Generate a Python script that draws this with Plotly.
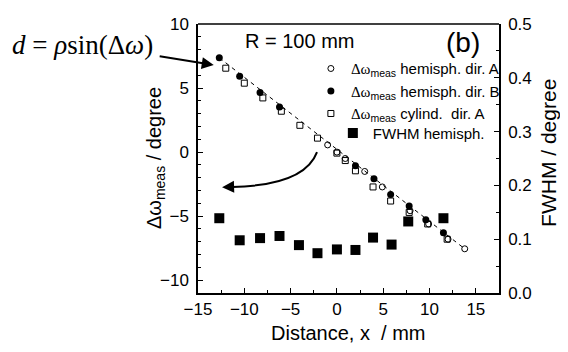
import plotly.graph_objects as go

# --- data ---
dirB_x = [-12.7, -10.5, -8.3, -6.2, 2.0, 4.0, 5.8, 7.8, 9.6, 11.5]
dirB_y = [7.36, 5.92, 4.66, 3.53, -1.06, -2.08, -3.32, -4.20, -5.29, -6.29]

dirA_x = [-1.0, 0.0, 0.9, 3.0, 4.9, 7.9, 9.9, 12.0, 13.8]
dirA_y = [0.56, 0.0, -0.5, -1.51, -2.72, -4.58, -5.61, -6.80, -7.55]

cyl_x = [-12.0, -10.0, -8.0, -6.0, -4.0, -2.1, 0.0, 0.9, 2.0, 3.9, 5.8, 7.8, 9.8, 11.9]
cyl_y = [6.55, 5.38, 4.23, 3.19, 2.09, 1.09, -0.08, -0.66, -1.46, -2.72, -3.82, -4.71, -5.61, -6.80]

fwhm_x = [-12.7, -10.5, -8.3, -6.2, -4.1, -2.1, 0.0, 2.0, 3.9, 5.9, 7.7, 11.5]
fwhm_y = [0.139, 0.098, 0.102, 0.106, 0.089, 0.074, 0.081, 0.080, 0.103, 0.090, 0.133, 0.139]

fit_x = [-12.7, 13.8]
fit_y = [7.36, -7.55]

x_ticks = [-15, -10, -5, 0, 5, 10, 15]
y_ticks = [-10, -5, 0, 5, 10]
y2_ticks = [0.0, 0.1, 0.2, 0.3, 0.4, 0.5]

DW = '<span style="font-family:Liberation Serif">Δω</span><sub>meas</sub>'

fig = go.Figure()
fig.add_trace(go.Scatter(x=fit_x, y=fit_y, mode="lines",
                         line=dict(color="black", width=1, dash="4px,4px"),
                         showlegend=False, hoverinfo="skip"))
fig.add_trace(go.Scatter(x=dirA_x, y=dirA_y, mode="markers",
                         name=DW + " hemisph. dir. A",
                         marker=dict(symbol="circle-open", size=6, color="black", line=dict(width=1))))
fig.add_trace(go.Scatter(x=dirB_x, y=dirB_y, mode="markers",
                         name=DW + " hemisph. dir. B",
                         marker=dict(symbol="circle", size=7, color="black")))
fig.add_trace(go.Scatter(x=cyl_x, y=cyl_y, mode="markers",
                         name=DW + " cylind.  dir. A",
                         marker=dict(symbol="square-open", size=6, color="black", line=dict(width=1))))
fig.add_trace(go.Scatter(x=fwhm_x, y=fwhm_y, mode="markers", yaxis="y2",
                         name="FWHM hemisph.", legend="legend2",
                         marker=dict(symbol="square", size=10, color="black")))

axis_common = dict(showline=True, linecolor="black", linewidth=1.5, mirror=False,
                   ticks="inside", ticklen=5, tickwidth=1, tickcolor="black",
                   showgrid=False, zeroline=False, ticklabeloverflow="allow",
                   tickfont=dict(family="Liberation Sans, Arial", size=17, color="black"))

fig.update_layout(
    width=552, height=336,
    margin=dict(l=189.5, r=61, t=7, b=50.7),
    paper_bgcolor="white", plot_bgcolor="white",
    font=dict(family="Liberation Sans, Arial", color="black"),
    xaxis=dict(range=[-15, 17.5], tickvals=x_ticks,
               minor=dict(ticks="inside", ticklen=3, dtick=2.5, tick0=0, tickcolor="black"),
               **axis_common),
    yaxis=dict(range=[-11, 10], tickvals=y_ticks, ticklabelstandoff=4,
               minor=dict(ticks="inside", ticklen=3, dtick=1, tick0=0, tickcolor="black"),
               **axis_common),
    yaxis2=dict(range=[0, 0.5], tickvals=y2_ticks, tickformat=".1f", overlaying="y", side="right",
                ticklabelstandoff=4,
                minor=dict(ticks="inside", ticklen=3, dtick=0.05, tick0=0, tickcolor="black"),
                **axis_common),
    legend=dict(x=0.375, y=0.895, xanchor="left", yanchor="top", bgcolor="rgba(0,0,0,0)",
                font=dict(size=15, color="black"), tracegroupgap=0, itemwidth=30),
    legend2=dict(x=0.448, y=0.655, xanchor="left", yanchor="top", bgcolor="rgba(0,0,0,0)",
                 font=dict(size=15, color="black"), itemwidth=30),
    showlegend=True,
)

# top frame line
fig.add_shape(type="line", xref="paper", yref="paper", x0=0, x1=1, y0=1, y1=1,
              line=dict(color="black", width=1.5))

# text annotations
fig.add_annotation(text="R = 100 mm", xref="paper", yref="paper", x=0.151, y=0.935,
                   xanchor="left", yanchor="middle", showarrow=False, font=dict(size=20))
fig.add_annotation(text="(b)", xref="paper", yref="paper", x=0.944, y=0.932,
                   xanchor="right", yanchor="middle", showarrow=False, font=dict(size=28))
fig.add_annotation(text="<i>d</i> = <i>ρ</i>sin(Δ<i>ω</i>)", xref="paper", yref="paper",
                   x=-0.625, y=0.921, xanchor="left", yanchor="middle", showarrow=False,
                   font=dict(size=27, family="Liberation Serif"))
# straight arrow from the formula to the first point
fig.add_annotation(text="", xref="x", yref="y", x=-13.3, y=6.8, axref="x", ayref="y",
                   ax=-19.3, ay=7.5, showarrow=True, arrowhead=2, arrowsize=1.2, arrowwidth=2,
                   arrowcolor="black")
# curved arrow
fig.add_shape(type="path", xref="x", yref="y",
              path="M -2.15,0 Q -3.5,-2.6 -11.3,-2.72",
              line=dict(color="black", width=2))
fig.add_annotation(text="", xref="x", yref="y", x=-12.4, y=-2.74, axref="x", ayref="y",
                   ax=-11.0, ay=-2.71, showarrow=True, arrowhead=2, arrowsize=1.2, arrowwidth=2,
                   arrowcolor="black")

# axis titles
fig.add_annotation(text="Distance, x  / mm", xref="paper", yref="paper", x=0.499, y=-0.15,
                   xanchor="center", yanchor="middle", showarrow=False, font=dict(size=20))
fig.add_annotation(text="Δω<sub>meas</sub> / degree", xref="paper", yref="paper", x=-0.141, y=0.5,
                   xanchor="center", yanchor="middle", showarrow=False, textangle=-90,
                   font=dict(size=20))
fig.add_annotation(text="FWHM / degree", xref="paper", yref="paper", x=1.162, y=0.52,
                   xanchor="center", yanchor="middle", showarrow=False, textangle=-90,
                   font=dict(size=21))

fig.write_html("out.html")
